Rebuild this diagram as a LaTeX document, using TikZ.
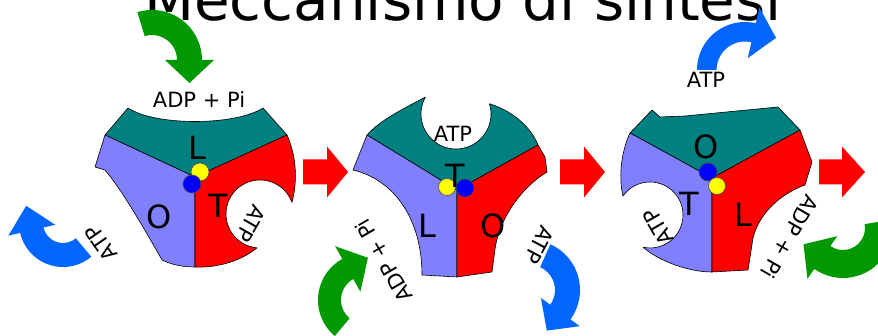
\documentclass[tikz,border=0pt]{standalone}
\usepackage{fontspec}
\setmainfont{DejaVu Sans}
\usetikzlibrary{calc}

\definecolor{tealc}{RGB}{0,128,128}
\definecolor{lav}{RGB}{128,128,255}
\definecolor{redc}{RGB}{255,0,0}
\definecolor{dotyellow}{RGB}{255,255,0}
\definecolor{dotblue}{RGB}{0,0,255}
\definecolor{arrgreen}{RGB}{0,153,0}
\definecolor{arrblue}{RGB}{0,102,255}

\tikzset{
  sector/.style={draw=black, line width=0.6pt, line join=round},
  lbl/.style={font=\fontsize{21}{25}\selectfont, inner sep=0pt},
  site/.style={font=\fontsize{32}{38}\selectfont, inner sep=0pt},
  dot/.style={circle, draw=black!70, line width=0.6pt, inner sep=0pt, minimum size=18pt},
}

% thick curved arrow: #1 colour, #2 centre, #3 inner radius, #4 outer radius,
% #5 start angle, #6 end angle, #7 head half-width, #8 head length, #9 turn sign
\newcommand\bentarrow[9]{%
  \pgfmathsetmacro\bmid{(#3+#4)/2}%
  \pgfmathsetmacro\bhi{\bmid+#7}%
  \pgfmathsetmacro\blo{\bmid-#7}%
  \pgfmathsetmacro\btan{#6+90*#9}%
  \fill[#1] ($#2+(#5:#4)$) arc[start angle=#5, end angle=#6, radius=#4]
    -- ($#2+(#6:\bhi)$) -- ($#2+(#6:\bmid)+(\btan:#8)$) -- ($#2+(#6:\blo)$)
    -- ($#2+(#6:#3)$) arc[start angle=#6, end angle=#5, radius=#3] -- cycle;
}

% straight block arrow: #1 tail x, #2 head base x, #3 tip x, #4 axis y
\newcommand\blockarrow[4]{%
  \fill[redc] (#1,#4+12.5) -- (#2,#4+12.5) -- (#2,#4+25.5) -- (#3,#4)
    -- (#2,#4-25.5) -- (#2,#4-12.5) -- (#1,#4-12.5) -- cycle;
}

\begin{document}
\begin{tikzpicture}[x=1pt,y=1pt]
\useasboundingbox (0,0) rectangle (878,-336);
\clip (0,0) rectangle (878,-336);
\fill[white] (0,0) rectangle (878,-336);

% title
\node[font=\fontsize{58}{66}\selectfont, anchor=base, inner sep=0pt] (title) at (463,-21) {Meccanismo di sintesi};

% ---------------- first state ----------------
\coordinate (s1J) at (195,-177);
\coordinate (s1A) at (105,-135);
\coordinate (s1B) at (287,-135);
\coordinate (s1TL) at (128,-108);
\coordinate (s1TR) at (263,-108);
\coordinate (s1N) at (260,-214);
\filldraw[sector, fill=tealc] (s1TL) .. controls (155,-126) and (235,-126) .. (s1TR)
  -- (s1B) -- (s1J) -- (s1A) -- cycle;
\filldraw[sector, fill=lav] (s1A) -- (95,-167) -- (105,-170)
  .. controls (122,-190) and (145,-230) .. (162,-260)
  .. controls (172,-265) and (184,-267) .. (195,-267) -- (s1J) -- cycle;
\filldraw[sector, fill=redc] (s1B) .. controls (296,-155) and (298,-180) .. ($(s1N)+(20:34)$)
  arc[start angle=20, end angle=265, radius=34]
  .. controls (240,-262) and (215,-268) .. (195,-267) -- (s1J) -- cycle;
\node[dot, fill=dotyellow] (s1y) at (200,-172) {};
\node[dot, fill=dotblue] (s1b) at (192,-184) {};
\node[site] (s1L) at (197,-148) {L};
\node[site] (s1O) at (159,-217) {O};
\node[site] (s1T) at (218,-206) {T};
\node[lbl] (s1in) at (199,-99.5) {ADP + Pi};
\node[lbl, rotate=-120] (s1site) at (251,-224) {ATP};
\node[lbl, rotate=125] (s1out) at (101,-243) {ATP};
\bentarrow{arrgreen}{(152,-60)}{25}{50}{107}{0}{24.5}{23}{-1}
\bentarrow{arrblue}{(63,-223)}{20}{44}{-50}{-167}{24}{25}{-1}

\blockarrow{303}{327}{348}{-172}

% ---------------- second state ----------------
\coordinate (s2N) at (456,-114);
\coordinate (s2A) at (367,-135);
\coordinate (s2B) at (538,-145);
\coordinate (s2J) at (457,-190);
\filldraw[sector, fill=tealc] ($(s2N)+(151:35)$) .. controls (405,-108) and (380,-120) .. (s2A)
  -- (s2J) -- (s2B) .. controls (530,-125) and (510,-110) .. ($(s2N)+(17:35)$)
  arc[start angle=17, end angle=-209, radius=35] -- cycle;
\filldraw[sector, fill=lav] (s2A) -- (353,-170)
  .. controls (395,-180) and (422,-220) .. (422,-275) -- (457,-277) -- (s2J) -- cycle;
\filldraw[sector, fill=redc] (s2J) -- (457,-277) -- (492,-272) -- (495,-249)
  .. controls (500,-215) and (525,-185) .. (547,-172) -- (545,-157) -- (s2B) -- cycle;
\node[dot, fill=dotyellow, minimum size=17pt] (s2y) at (447,-187) {};
\node[dot, fill=dotblue] (s2b) at (465,-188) {};
\node[site] (s2T) at (455,-176) {T};
\node[site] (s2L) at (427,-226) {L};
\node[site] (s2O) at (493,-226) {O};
\node[lbl] (s2site) at (453,-134) {ATP};
\node[lbl, rotate=120] (s2in) at (384,-261) {ADP + Pi};
\node[lbl, rotate=-118] (s2out) at (539,-245) {ATP};
\bentarrow{arrgreen}{(365,-300)}{24}{47}{230}{119}{26}{23}{-1}
\bentarrow{arrblue}{(530,-290)}{25}{50}{66}{-36}{24}{23}{-1}

\blockarrow{560}{584}{605}{-172}

% ---------------- third state ----------------
\coordinate (s3A) at (630,-133);
\coordinate (s3B) at (800,-130);
\coordinate (s3J) at (712,-178);
\coordinate (s3N) at (650,-215);
\filldraw[sector, fill=tealc] (652,-110) -- (660,-117) -- (685,-116) -- (778,-107)
  -- (s3B) -- (s3J) -- (s3A) -- cycle;
\filldraw[sector, fill=lav] (s3A) .. controls (622,-150) and (618,-175) .. ($(s3N)+(145:33)$)
  arc[start angle=145, end angle=-102, radius=33]
  .. controls (660,-262) and (690,-272) .. (712,-272) -- (s3J) -- cycle;
\filldraw[sector, fill=redc] (s3J) -- (712,-272) -- (748,-270) -- (753,-238)
  .. controls (760,-210) and (785,-192) .. (805,-185) -- (812,-162) -- (s3B) -- cycle;
\node[dot, fill=dotblue] (s3b) at (708,-172) {};
\node[dot, fill=dotyellow, minimum size=17pt] (s3y) at (717,-186) {};
\node[site] (s3O) at (706,-147) {O};
\node[site] (s3T) at (689,-204) {T};
\node[site] (s3L) at (743,-215) {L};
\node[lbl] (s3out) at (706,-80) {ATP};
\node[lbl, rotate=120] (s3site) at (658,-227) {ATP};
\node[lbl, rotate=-120] (s3in) at (790,-237) {ADP + Pi};
\bentarrow{arrblue}{(745,-70)}{28.5}{48}{180}{77}{26}{23}{-1}
\bentarrow{arrgreen}{(843,-228)}{22}{50}{10}{-125}{26}{23}{-1}

\blockarrow{819}{842}{865}{-172}
\end{tikzpicture}
\end{document}
